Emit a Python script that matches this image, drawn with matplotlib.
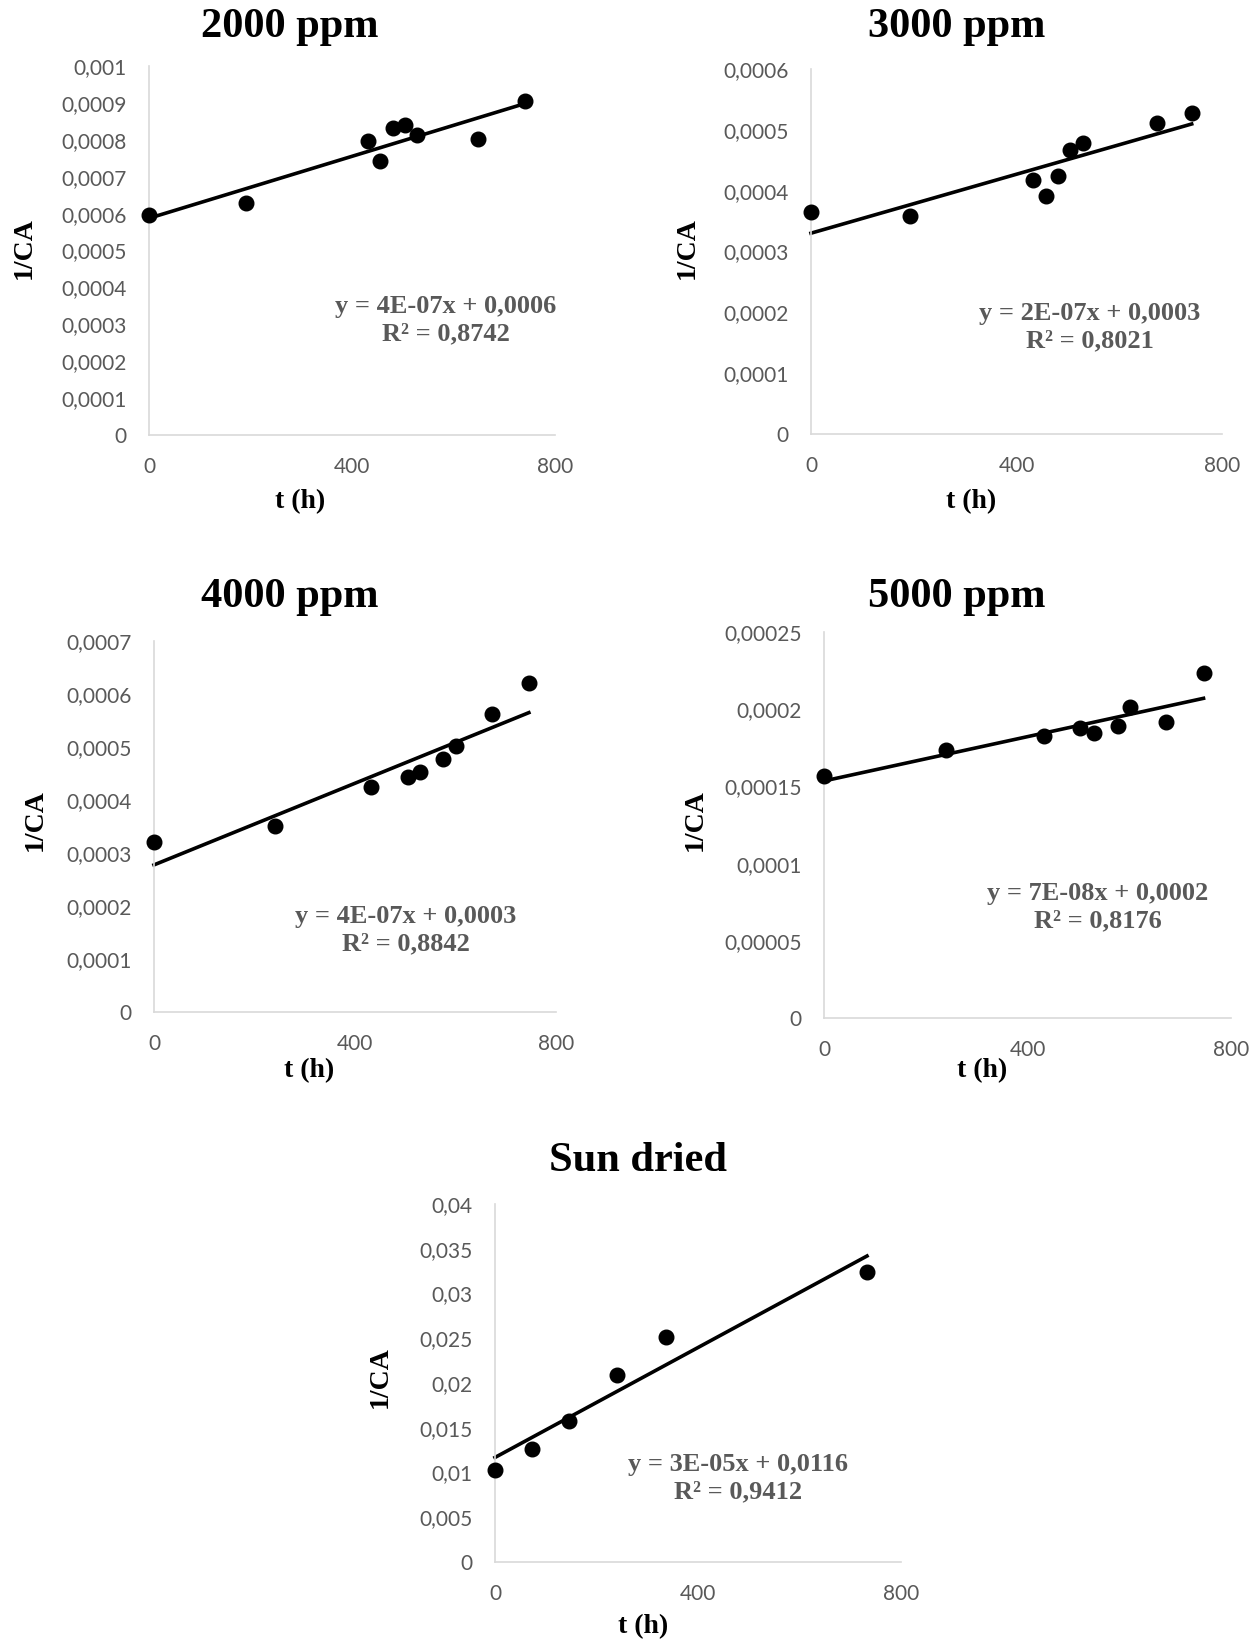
import matplotlib
matplotlib.use("Agg")
import matplotlib.pyplot as plt
import numpy as np

# data (t in hours, 1/CA)
t_2000 = [0, 192, 431, 456, 480, 504, 529, 648, 741]
y_2000 = [0.000595, 0.00063, 0.000796, 0.000743, 0.000832, 0.00084, 0.000814, 0.000803, 0.000904]

t_3000 = [0, 192, 433, 457, 480, 505, 530, 674, 741]
y_3000 = [0.000365, 0.000359, 0.000418, 0.000392, 0.000424, 0.000467, 0.000478, 0.000512, 0.000528]

t_4000 = [0, 240, 432, 505, 530, 576, 601, 673, 746]
y_4000 = [0.00032, 0.000351, 0.000424, 0.000444, 0.000453, 0.000478, 0.000501, 0.000563, 0.000621]

t_5000 = [0, 240, 433, 504, 530, 577, 601, 673, 746]
y_5000 = [0.0001567, 0.0001733, 0.0001824, 0.000188, 0.0001845, 0.0001889, 0.0002014, 0.0001919, 0.0002234]

t_sun = [0, 72, 145, 240, 336, 733]
y_sun = [0.01024, 0.01259, 0.01572, 0.02093, 0.0251, 0.03236]

titles = ["2000 ppm", "3000 ppm", "4000 ppm", "5000 ppm", "Sun dried"]
equations = [
    "y = 4E-07x + 0,0006\nR² = 0,8742",
    "y = 2E-07x + 0,0003\nR² = 0,8021",
    "y = 4E-07x + 0,0003\nR² = 0,8842",
    "y = 7E-08x + 0,0002\nR² = 0,8176",
    "y = 3E-05x + 0,0116\nR² = 0,9412",
]
y_tops = [0.001, 0.0006, 0.0007, 0.00025, 0.04]
y_steps = [0.0001, 0.0001, 0.0001, 0.00005, 0.005]

W, H = 1258, 1644
# plot areas in pixels: left, right, top, bottom
boxes = [(149, 555, 66, 435), (811, 1222, 69, 434), (154, 556, 641, 1012),
         (824, 1231, 632, 1018), (495, 901, 1204, 1562)]
title_pos = [(290, 27), (957, 27), (290, 597), (957, 597), (638, 1161)]
ylabel_pos = [(24, 248), (687, 248), (35, 820), (695, 820), (380, 1377)]
xlabel_pos = [(300, 502), (971, 502), (309, 1071), (982, 1071), (643, 1627)]
eq_pos = [(446, 320), (1090, 327), (406, 930), (1098, 907), (738, 1478)]

serif = "Liberation Serif"
grey = "#595959"


def fmt(v, pos=None):
    if abs(v) < 1e-12:
        return "0"
    s = f"{v:.10f}".rstrip("0").rstrip(".")
    return s.replace(".", ",")


fig = plt.figure(figsize=(W / 100, H / 100), dpi=100)
series = [(t_2000, y_2000), (t_3000, y_3000), (t_4000, y_4000), (t_5000, y_5000), (t_sun, y_sun)]

for i, (t, y) in enumerate(series):
    l, r, tp, b = boxes[i]
    ax = fig.add_axes([l / W, 1 - b / H, (r - l) / W, (b - tp) / H])
    t = np.array(t)
    y = np.array(y)
    ax.plot(t, y, "o", color="black", ms=10.5, clip_on=False, zorder=3)
    coef = np.polyfit(t, y, 1)
    xs = np.array([t.min(), t.max()])
    ax.plot(xs, np.polyval(coef, xs), "-", color="black", lw=2.6, clip_on=False, zorder=2)

    ax.set_xlim(0, 800)
    ax.set_ylim(0, y_tops[i])
    ax.set_xticks([0, 400, 800])
    ax.set_yticks(np.arange(0, y_tops[i] + y_steps[i] / 2, y_steps[i]))
    ax.yaxis.set_major_formatter(matplotlib.ticker.FuncFormatter(fmt))
    for side in ["top", "right"]:
        ax.spines[side].set_visible(False)
    for side in ["left", "bottom"]:
        ax.spines[side].set_color("#d9d9d9")
        ax.spines[side].set_linewidth(1.2)
    ax.tick_params(length=0, pad=16, labelsize=15, labelcolor=grey)
    for lab in ax.get_xticklabels() + ax.get_yticklabels():
        lab.set_fontfamily("Lato")

    tx, ty = title_pos[i]
    fig.text(tx / W, 1 - ty / H, titles[i], ha="center", va="center",
             fontsize=30.5, fontweight="bold", family=serif)
    lx, ly = ylabel_pos[i]
    fig.text(lx / W, 1 - ly / H, "1/CA", ha="center", va="center", rotation=90,
             fontsize=20, fontweight="bold", family=serif)
    xx, xy = xlabel_pos[i]
    fig.text(xx / W, 1 - xy / H, "t (h)", ha="center", va="center",
             fontsize=20, fontweight="bold", family=serif)
    ex, ey = eq_pos[i]
    fig.text(ex / W, 1 - ey / H, equations[i], ha="center", va="center",
             fontsize=19, fontweight="bold", family=serif, color=grey,
             linespacing=1.25)

fig.savefig("out.png", dpi=100)
